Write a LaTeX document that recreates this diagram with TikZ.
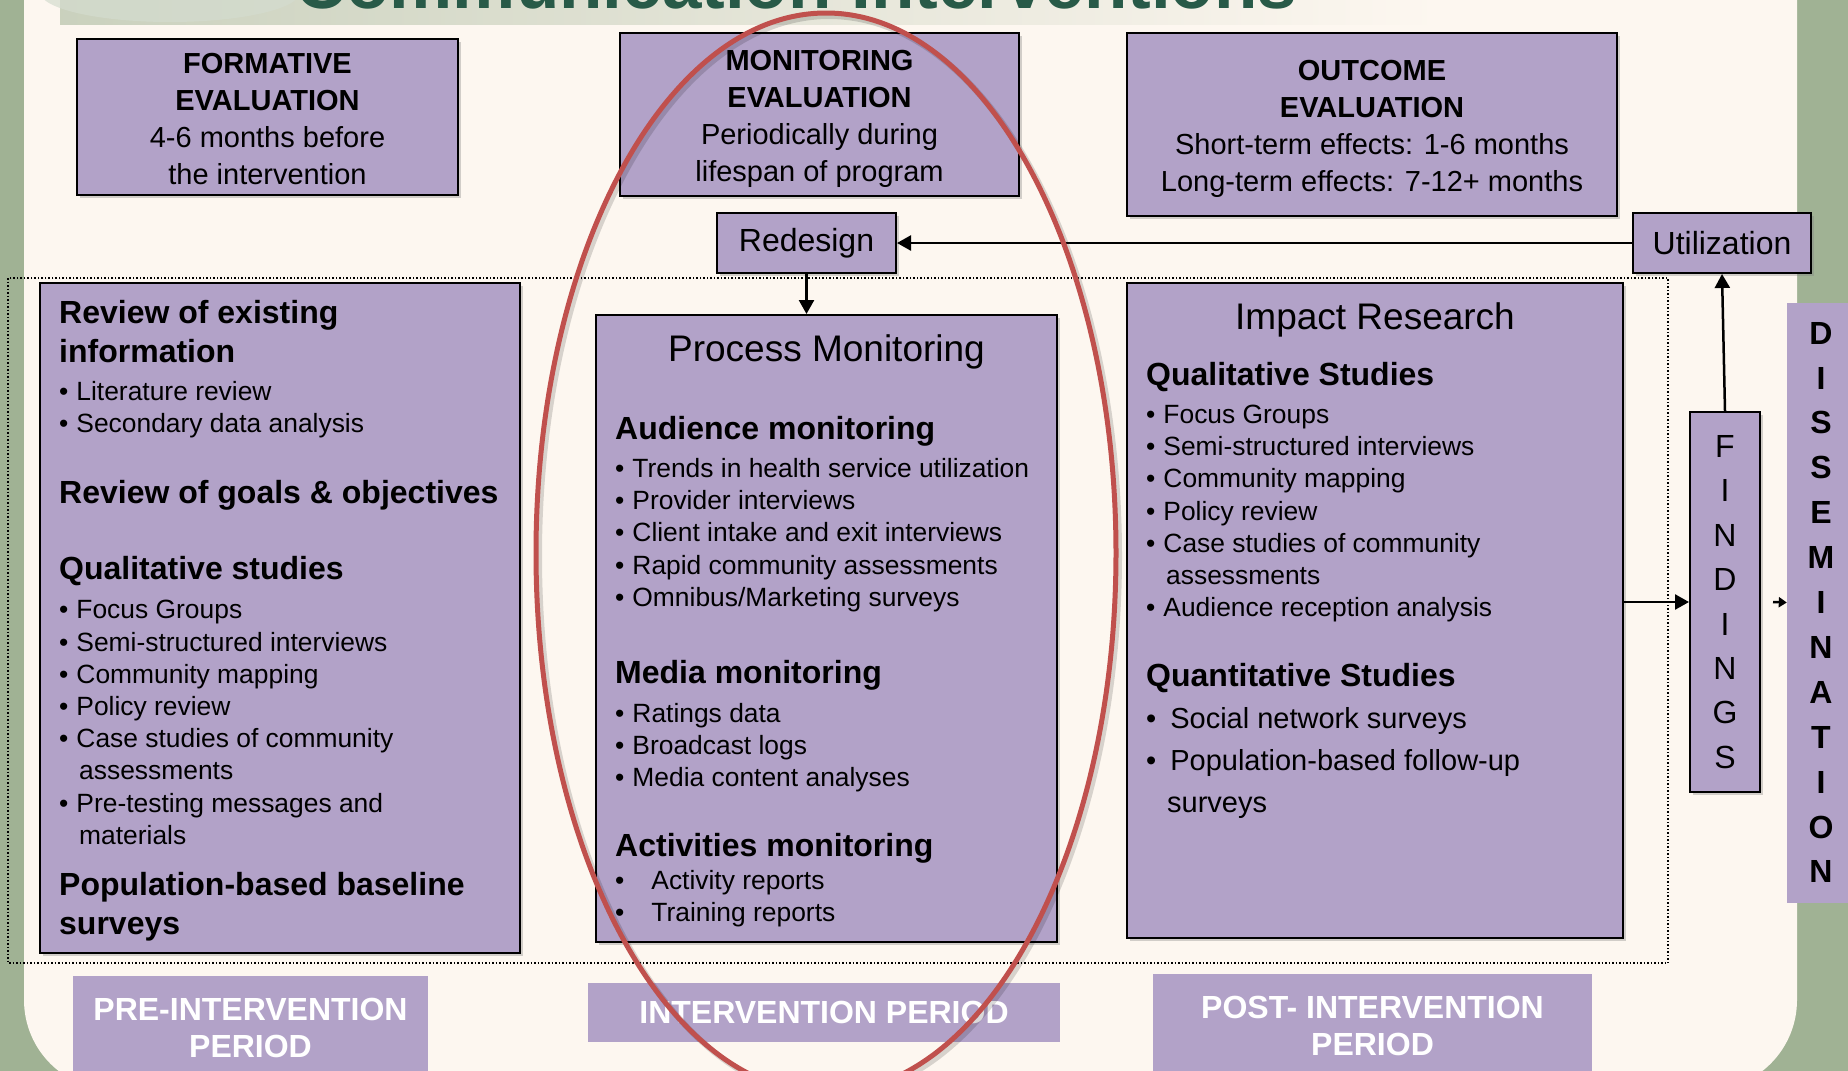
\documentclass[tikz,border=0pt]{standalone}
\usepackage{fontspec}
\setmainfont{Liberation Sans}
\usetikzlibrary{positioning,arrows.meta,shadows}

\definecolor{lavender}{RGB}{178,162,200}
\definecolor{cream}{RGB}{253,247,240}
\definecolor{sage}{RGB}{160,178,148}
\definecolor{ringred}{RGB}{192,80,77}
\definecolor{titlegreen}{RGB}{40,90,72}

\setlength{\parindent}{0pt}
% heading and bullet lines inside the big boxes
\newcommand{\boxhead}[2][0pt]{\vspace{#1}{\fontsize{32}{39}\selectfont\bfseries #2\par}}
\newcommand{\boxitem}[2][0pt]{\vspace{#1}{\fontsize{26.4}{32.2}\selectfont\hangindent=20pt\hangafter=1 •\hspace{8pt}#2\par}}
\newcommand{\bigitem}[2][0pt]{\vspace{#1}{\fontsize{29}{42}\selectfont\hangindent=21pt\hangafter=1 •\hspace{14pt}#2\par}}

\begin{document}
\begin{tikzpicture}[x=1pt, y=-1pt,
    box/.style = {draw, line width=2pt, fill=lavender, inner sep=2pt,
      drop shadow={shadow xshift=3pt, shadow yshift=-3pt, opacity=0.35}},
    band/.style = {fill=lavender, text=white, inner sep=0pt, align=center,
      font=\fontsize{32}{37}\selectfont\bfseries},
    txt/.style = {inner sep=0pt, align=flush left},
    arr/.style = {-{Triangle[length=14pt,width=15pt]}, line width=2.5pt}]

    % slide background
    \useasboundingbox (0,0) rectangle (1848,1071);
    \clip (0,0) rectangle (1848,1071);
    \fill[sage] (0,0) rectangle (1848,1071);
    \fill[cream, rounded corners=90pt] (24,-120) rectangle (1797,1090);
    \shade[left color=sage!55!cream, right color=cream] (60,0) rectangle (1440,24);
    \fill[sage!45!white, opacity=0.7] (170,-8) ellipse [x radius=130, y radius=30];
    \node[anchor=base west, inner sep=0pt, text=titlegreen,
      font=\fontsize{71}{71}\selectfont\bfseries] (title) at (295,8) {Communication Interventions};

    % dotted frame round the three columns
    \draw[dotted, line width=1.5pt] (8,278) rectangle (1668,963);

    % top row
    \node[box, minimum width=381pt, minimum height=156pt, align=center,
      font=\fontsize{29}{37}\selectfont] (formative) at (267.5,117)
      {\rule{0pt}{24pt}\textbf{FORMATIVE}\\\textbf{EVALUATION}\\4-6 months before\\the intervention};
    \node[box, minimum width=399pt, minimum height=163pt, align=center,
      font=\fontsize{29}{37}\selectfont] (monitoring) at (819.5,114.5)
      {\rule{0pt}{29pt}\textbf{MONITORING}\\\textbf{EVALUATION}\\Periodically during\\lifespan of program};
    \node[box, minimum width=490pt, minimum height=183pt, align=center,
      font=\fontsize{29}{37}\selectfont] (outcome) at (1372,124.5)
      {\rule{0pt}{30pt}\textbf{OUTCOME}\\\textbf{EVALUATION}\\Short-term effects: 1-6 months\\Long-term effects: 7-12+ months};
    \node[box, minimum width=179pt, minimum height=60pt, font=\fontsize{32}{38}\selectfont]
      (redesign) at (806.5,243) {Redesign};
    \node[box, minimum width=178pt, minimum height=60pt, font=\fontsize{32}{38}\selectfont]
      (util) at (1722,243) {Utilization};

    % three columns
    \node[box, minimum width=480pt, minimum height=670pt] (lft) at (280,618) {};
    \node[box, minimum width=461pt, minimum height=627pt] (proc) at (826.5,628.5) {};
    \node[box, minimum width=496pt, minimum height=655pt] (imp) at (1375,610.5) {};

    \node[txt, text width=455pt, below right=18pt and 20pt of lft.north west] (lfttxt) {%
      \boxhead{Review of existing\newline information}
      \boxitem[6pt]{Literature review}
      \boxitem{Secondary data analysis}
      \boxhead[32pt]{Review of goals \& objectives}
      \boxhead[37pt]{Qualitative studies}
      \boxitem[7pt]{Focus Groups}
      \boxitem{Semi-structured interviews}
      \boxitem{Community mapping}
      \boxitem{Policy review}
      \boxitem{Case studies of community\newline assessments}
      \boxitem{Pre-testing messages and\newline materials}
      \boxhead[12pt]{Population-based baseline\newline surveys}};

    \node[inner sep=0pt, font=\fontsize{37}{44}\selectfont, below=20pt of proc.north] (proctitle) {Process Monitoring};
    \node[txt, text width=440pt, below right=102pt and 20pt of proc.north west] (proctxt) {%
      \boxhead{Audience monitoring}
      \boxitem[6pt]{Trends in health service utilization}
      \boxitem{Provider interviews}
      \boxitem{Client intake and exit interviews}
      \boxitem{Rapid community assessments}
      \boxitem{Omnibus/Marketing surveys}
      \boxhead[38pt]{Media monitoring}
      \boxitem[7pt]{Ratings data}
      \boxitem{Broadcast logs}
      \boxitem{Media content analyses}
      \boxhead[31pt]{Activities monitoring}
      \boxitem{\hspace{19pt}Activity reports}
      \boxitem{\hspace{19pt}Training reports}};

    \node[inner sep=0pt, font=\fontsize{37}{44}\selectfont, below=20pt of imp.north] (imptitle) {Impact Research};
    \node[txt, text width=460pt, below right=80pt and 20pt of imp.north west] (imptxt) {%
      \boxhead{Qualitative Studies}
      \boxitem[6pt]{Focus Groups}
      \boxitem{Semi-structured interviews}
      \boxitem{Community mapping}
      \boxitem{Policy review}
      \boxitem{Case studies of community\newline assessments}
      \boxitem{Audience reception analysis}
      \boxhead[31pt]{Quantitative Studies}
      \bigitem{Social network surveys}
      \bigitem{Population-based follow-up\newline surveys}};

    % findings and dissemination
    \node[box, minimum width=70pt, minimum height=380pt, align=center,
      font=\fontsize{32}{44.4}\selectfont] (find) at (1725,602)
      {F\\I\\N\\D\\I\\N\\G\\S};
    \node[fill=lavender, minimum width=68pt, minimum height=600pt, inner sep=0pt, align=center,
      font=\fontsize{32}{44.9}\selectfont\bfseries] (diss) at (1821,602.5)
      {D\\I\\S\\S\\E\\M\\I\\N\\A\\T\\I\\O\\N};

    % arrows
    \draw[arr] (util) -- (redesign);
    \draw[arr] (redesign.south) -- (redesign.south |- proc.north);
    \draw[arr] (find.west -| imp.east) -- (find.west);
    \draw[arr] (find.north) -- (util.south);
    \draw[-{Triangle[length=8pt,width=10pt]}, line width=2.5pt] ([xshift=12pt]find.east) -- (diss.west);

    % periods
    \node[band, minimum width=355pt, minimum height=104pt] (pre) at (250.5,1028) {PRE-INTERVENTION\\PERIOD};
    \node[band, minimum width=472pt, minimum height=59pt] (during) at (824,1012.5) {INTERVENTION PERIOD};
    \node[band, minimum width=439pt, minimum height=104pt] (post) at (1372.5,1026) {POST- INTERVENTION\\PERIOD};

    % red ring round the monitoring column
    \draw[black, opacity=0.15, line width=6pt] (829,556) ellipse [x radius=290, y radius=540];
    \draw[ringred, line width=5pt] (826,553) ellipse [x radius=290, y radius=540];
\end{tikzpicture}
\end{document}
